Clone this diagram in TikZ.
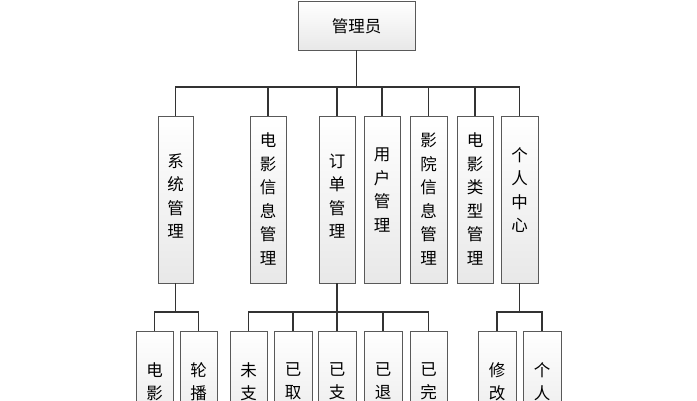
\documentclass[tikz,border=0pt]{standalone}
\usepackage{fontspec}
\newfontfamily\cjk{Noto Sans CJK SC}[Scale=1]
\begin{document}
\begin{tikzpicture}[x=1pt,y=-1pt,
  bx/.style={draw=gray!70!black,line width=0.9pt,top color=white,bottom color=gray!18},
  ln/.style={draw=black!80,line width=1.1pt},
  tx/.style={font=\cjk\fontsize{16.5}{23.5}\selectfont,align=center,inner sep=0pt}]
\useasboundingbox (0,0) rectangle (697,400);
\begin{scope}
\clip (0,0) rectangle (697,400);
% root
\path[bx] (298,1) rectangle (415,50);
\node[tx] (root) at (356.5,26) {管理员};
\coordinate (rb) at (356.5,50);
% level 2
\foreach \n/\a/\b/\t/\yy in {s/158/193/系\\统\\管\\理/196, m/250/286/电\\影\\信\\息\\管\\理/199, o/319/355/订\\单\\管\\理/196, u/364/400/用\\户\\管\\理/190, c/410/447/影\\院\\信\\息\\管\\理/199, k/457/493/电\\影\\类\\型\\管\\理/199, p/501/538/个\\人\\中\\心/190}{
  \path[bx] (\a,116) rectangle (\b,283);
  \coordinate (\n t) at ({(\a+\b)/2},116);
  \coordinate (\n b) at ({(\a+\b)/2},283);
  \node[tx] (\n) at ({(\a+\b)/2},\yy) {\t};
}
\draw[ln] (rb) -- (356.5,87);
\draw[ln] (st) -- (175.5,87) -- (519.5,87) -- (pt);
\foreach \n in {m,o,u,c,k}{\draw[ln] (\n t) |- (356.5,87);}
% level 3
\foreach \n/\a/\b/\t in {a1/136/173/电\\影, a2/180/217/轮\\播, b1/230/267/未\\支, b2/274/312/已\\取, b3/318/356/已\\支, b4/364/402/已\\退, b5/410/447/已\\完, c1/478/516/修\\改, c2/523/561/个\\人}{
  \path[bx] (\a,331) rectangle (\b,440);
  \coordinate (\n t) at ({(\a+\b)/2},331);
  \node[tx,anchor=north] (\n) at ({(\a+\b)/2},362) {\t};
}
\draw[ln] (sb) -- (175.5,312);
\draw[ln] (a1t) |- (175.5,312) -| (a2t);
\draw[ln] (ob) -- (337,312);
\draw[ln] (b1t) |- (337,312) -| (b5t);
\foreach \n in {b2,b3,b4}{\draw[ln] (\n t) |- (337,312);}
\draw[ln] (pb) -- (519.5,312);
\draw[ln] (c1t) |- (519.5,312) -| (c2t);
\end{scope}
\end{tikzpicture}
\end{document}
